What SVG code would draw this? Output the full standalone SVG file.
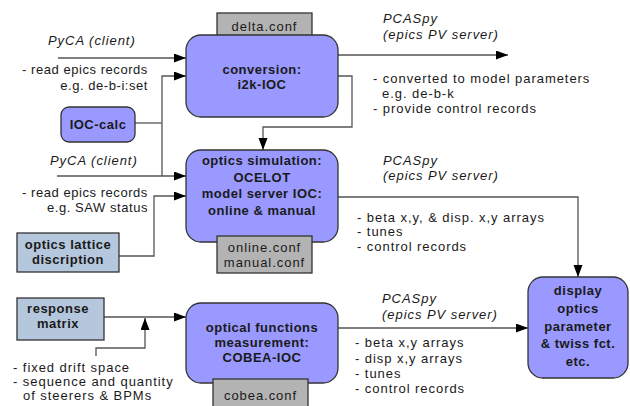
<svg xmlns="http://www.w3.org/2000/svg" width="630" height="406" viewBox="0 0 630 406">
<defs>
<marker id="ah" markerUnits="userSpaceOnUse" markerWidth="13" markerHeight="10" refX="12" refY="4.5" orient="auto">
<path d="M0,0 L12,4.5 L0,9 z" fill="#000"/>
</marker>
<style>
text{font-family:"Liberation Sans",Arial,sans-serif;font-size:13px;fill:#1a1a1a;letter-spacing:0.95px}
.l{letter-spacing:0.55px}
.b{font-weight:bold;letter-spacing:0.5px}
.i{font-style:italic}
.c{text-anchor:middle}
.e{text-anchor:end}
.blue{fill:#9999ff;stroke:#333;stroke-width:1.3}
.gray{fill:#b3b3b3;stroke:#333;stroke-width:1.3}
.lb{fill:#b4c7dc;stroke:#333;stroke-width:1.3}
.ln{fill:none;stroke:#555;stroke-width:1.3}
</style>
</defs>
<rect width="630" height="406" fill="#fff"/>

<g id="connectors">
<path class="ln" d="M58,58 H186" marker-end="url(#ah)"/>
<path class="ln" d="M162,176 V76 H186" marker-end="url(#ah)"/>
<path class="ln" d="M135,123 H162"/>
<path class="ln" d="M338,55 H508" marker-end="url(#ah)"/>
<path class="ln" d="M338,76 H352 V127 H263 V150" marker-end="url(#ah)"/>
<path class="ln" d="M57,176 H186" marker-end="url(#ah)"/>
<path class="ln" d="M119,256 H154 V196 H186" marker-end="url(#ah)"/>
<path class="ln" d="M338,197 H578 V277" marker-end="url(#ah)"/>
<path class="ln" d="M104,317 H186" marker-end="url(#ah)"/>
<path class="ln" d="M96,356 V348 H145 V318" marker-end="url(#ah)"/>
<path class="ln" d="M338,328 H528" marker-end="url(#ah)"/>
</g>

<g id="labels">
<text class="i" x="48" y="45">PyCA (client)</text>
<text class="l" x="22" y="74">- read epics records</text>
<text class="l e" x="148" y="90">e.g. de-b-i:set</text>
<text class="i" x="383" y="23">PCASpy</text>
<text class="i" x="383" y="39">(epics PV server)</text>
<text x="373" y="83">- converted to model parameters</text>
<text x="382" y="98">e.g. de-b-k</text>
<text x="373" y="113">- provide control records</text>
<text class="i" x="50" y="165">PyCA (client)</text>
<text class="l" x="22" y="197">- read epics records</text>
<text class="l e" x="148" y="212">e.g. SAW status</text>
<text class="i" x="383" y="165">PCASpy</text>
<text class="i" x="383" y="180">(epics PV server)</text>
<text x="357" y="222">- beta x,y, &amp; disp. x,y arrays</text>
<text x="357" y="236">- tunes</text>
<text x="357" y="251">- control records</text>
<text x="13" y="372">- fixed drift space</text>
<text x="13" y="386">- sequence and quantity</text>
<text x="23" y="400">of steerers &amp; BPMs</text>
<text class="i" x="382" y="303">PCASpy</text>
<text class="i" x="382" y="319">(epics PV server)</text>
<text x="355" y="347">- beta x,y arrays</text>
<text x="355" y="363">- disp x,y arrays</text>
<text x="355" y="378">- tunes</text>
<text x="355" y="393">- control records</text>
</g>

<g id="delta-conf">
<rect class="gray" x="217" y="13" width="95" height="24"/>
<text class="c" x="264.5" y="31">delta.conf</text>
</g>
<g id="conversion">
<rect class="blue" x="186" y="35" width="152" height="82" rx="15"/>
<text class="b c" x="262" y="74">conversion:</text>
<text class="b c" x="262" y="89">i2k-IOC</text>
</g>
<g id="ioc-calc">
<rect class="blue" x="61" y="107" width="74" height="35" rx="8"/>
<text class="b c" x="98" y="129">IOC-calc</text>
</g>
<g id="ocelot">
<rect class="blue" x="186" y="150" width="152" height="92" rx="15"/>
<text class="b c" x="262" y="165">optics simulation:</text>
<text class="b c" x="262" y="182">OCELOT</text>
<text class="b c" x="262" y="198">model server IOC:</text>
<text class="b c" x="262" y="215">online &amp; manual</text>
</g>
<g id="online-conf">
<rect class="gray" x="217" y="236" width="95" height="37"/>
<text class="c" x="264.5" y="252">online.conf</text>
<text class="c" x="264.5" y="267">manual.conf</text>
</g>
<g id="lattice">
<rect class="lb" x="17" y="233" width="102" height="39"/>
<text class="b c" x="68" y="249">optics lattice</text>
<text class="b c" x="68" y="264">discription</text>
</g>
<g id="display">
<rect class="blue" x="528" y="277" width="100" height="101" rx="15"/>
<text class="b c" x="578" y="295">display</text>
<text class="b c" x="578" y="313">optics</text>
<text class="b c" x="578" y="331">parameter</text>
<text class="b c" x="578" y="348">&amp; twiss fct.</text>
<text class="b c" x="578" y="366">etc.</text>
</g>
<g id="response">
<rect class="lb" x="17" y="298" width="87" height="42"/>
<text class="b c" x="58" y="313">response</text>
<text class="b c" x="58" y="328">matrix</text>
</g>
<g id="cobea">
<rect class="blue" x="186" y="303" width="152" height="80" rx="15"/>
<text class="b c" x="262" y="332">optical functions</text>
<text class="b c" x="262" y="347">measurement:</text>
<text class="b c" x="262" y="362">COBEA-IOC</text>
</g>
<g id="cobea-conf">
<rect class="gray" x="213" y="379" width="95" height="35"/>
<text class="c" x="260.5" y="400">cobea.conf</text>
</g>
</svg>
